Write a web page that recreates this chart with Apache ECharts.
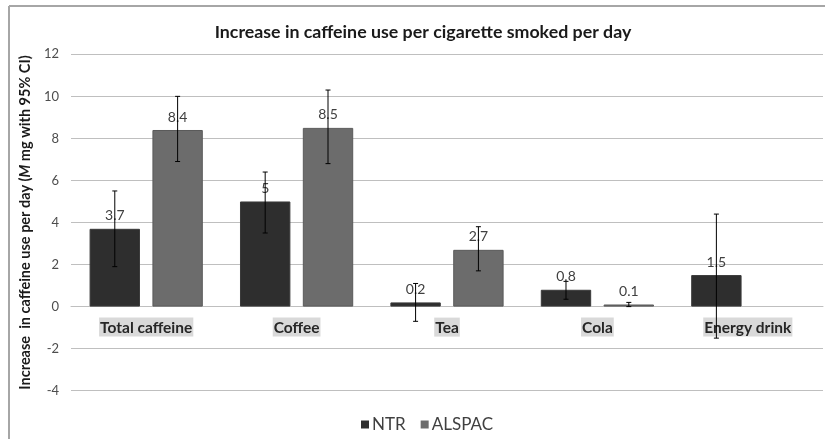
<!DOCTYPE html>
<html>
<head>
<meta charset="utf-8">
<script src="https://cdn.jsdelivr.net/npm/echarts@6/dist/echarts.min.js"></script>
<style>
html,body{margin:0;padding:0;background:#fff;}
#c{width:825px;height:439px;}
</style>
</head>
<body>
<div id="c"></div>
<script>
const categories = ['Total caffeine', 'Coffee', 'Tea', 'Cola', 'Energy drink'];
const ntrValues = [3.7, 5, 0.2, 0.8, 1.5];
const ntrLow = [1.9, 3.5, -0.7, 0.35, -1.5];
const ntrHigh = [5.5, 6.4, 1.1, 1.2, 4.4];
const alspacValues = [8.4, 8.5, 2.7, 0.1, null];
const alspacLow = [6.9, 6.8, 1.7, 0.0, null];
const alspacHigh = [10.0, 10.3, 3.8, 0.2, null];
const yTicks = { min: -4, max: 12, interval: 2 };

const BAR_W = 0.335, GAP = 0.247;
const GRID = { left: 71, right: 2, top: 54.3, bottom: 48.3 };
const plotH = 439 - GRID.top - GRID.bottom;
const zeroOffset = -(0 - yTicks.min) / (yTicks.max - yTicks.min) * plotH;

function errSeries(low, high, side) {
  const data = [];
  low.forEach((l, i) => { if (l !== null) data.push([i, l, high[i]]); });
  return {
    type: 'custom',
    z: 5,
    silent: true,
    data: data,
    renderItem: function (params, api) {
      const cw = api.size([1, 0])[0];
      const bw = cw * BAR_W;
      const off = side * (bw + bw * GAP) / 2;
      const lo = api.coord([api.value(0), api.value(1)]);
      const hi = api.coord([api.value(0), api.value(2)]);
      const x = lo[0] + off;
      const cap = 2.5;
      const st = { stroke: '#000', lineWidth: 1 };
      return {
        type: 'group',
        children: [
          { type: 'line', shape: { x1: x, y1: lo[1], x2: x, y2: hi[1] }, style: st },
          { type: 'line', shape: { x1: x - cap, y1: lo[1], x2: x + cap, y2: lo[1] }, style: st },
          { type: 'line', shape: { x1: x - cap, y1: hi[1], x2: x + cap, y2: hi[1] }, style: st }
        ]
      };
    }
  };
}

const chart = echarts.init(document.getElementById('c'));
chart.setOption({
  backgroundColor: '#fff',
  animation: false,
  title: {
    text: 'Increase in caffeine use per cigarette smoked per day',
    left: 418, textAlign: 'center', top: 18,
    textStyle: { fontFamily: 'Lato', fontWeight: 'bold', fontSize: 17.8, color: '#1a1a1a' }
  },
  legend: {
    data: ['NTR', 'ALSPAC'],
    left: 356, top: 411,
    icon: 'rect', itemWidth: 8, itemHeight: 8, itemGap: 15, itemStyle: { borderWidth: 0 },
    textStyle: { fontFamily: 'Lato', fontSize: 17, color: '#404040', padding: [0, 0, 0, -2] }
  },
  grid: GRID,
  graphic: [
    { type: 'line', shape: { x1: 9, y1: 6, x2: 825, y2: 6 }, style: { stroke: '#a6a6a6', lineWidth: 2 } },
    { type: 'line', shape: { x1: 9, y1: 6, x2: 9, y2: 439 }, style: { stroke: '#a6a6a6', lineWidth: 2 } }
  ],
  xAxis: {
    type: 'category',
    data: categories,
    position: 'bottom',
    offset: zeroOffset,
    axisLine: { onZero: false, lineStyle: { color: '#bfbfbf' } },
    axisTick: { show: false },
    axisLabel: {
      margin: 11,
      fontFamily: 'Lato', fontWeight: 'bold', fontSize: 15.5, color: '#262626',
      backgroundColor: '#d9d9d9', padding: [2, 1, 1, 1]
    }
  },
  yAxis: {
    type: 'value',
    min: yTicks.min, max: yTicks.max, interval: yTicks.interval,
    name: 'Increase  in caffeine use per day ({i|M} mg with 95% CI)',
    nameLocation: 'middle', nameGap: 38, nameRotate: 90,
    nameTextStyle: {
      fontFamily: 'Lato', fontWeight: 'bold', fontSize: 14.5, color: '#1a1a1a',
      rich: { i: { fontFamily: 'Lato', fontWeight: 'bold', fontStyle: 'italic', fontSize: 14.5, color: '#1a1a1a' } }
    },
    axisLine: { show: false },
    axisTick: { show: false },
    axisLabel: { fontFamily: 'Lato', fontSize: 13, color: '#4d4d4d', margin: 12 },
    splitLine: { lineStyle: { color: '#bfbfbf', width: 1 } }
  },
  series: [
    {
      name: 'NTR', type: 'bar', data: ntrValues,
      barWidth: (BAR_W * 100) + '%', barGap: (GAP * 100) + '%',
      itemStyle: { color: '#2e2e2e', borderColor: '#3a3a3a', borderWidth: 1 },
      label: { show: true, position: 'top', distance: 6, fontFamily: 'Lato', fontSize: 14, color: '#404040' }
    },
    {
      name: 'ALSPAC', type: 'bar', data: alspacValues,
      barWidth: (BAR_W * 100) + '%', barGap: (GAP * 100) + '%',
      itemStyle: { color: '#6c6c6c', borderColor: '#5a5a5a', borderWidth: 1 },
      label: { show: true, position: 'top', distance: 6, fontFamily: 'Lato', fontSize: 14, color: '#404040' }
    },
    errSeries(ntrLow, ntrHigh, -1),
    errSeries(alspacLow, alspacHigh, 1)
  ]
});
</script>
</body>
</html>
